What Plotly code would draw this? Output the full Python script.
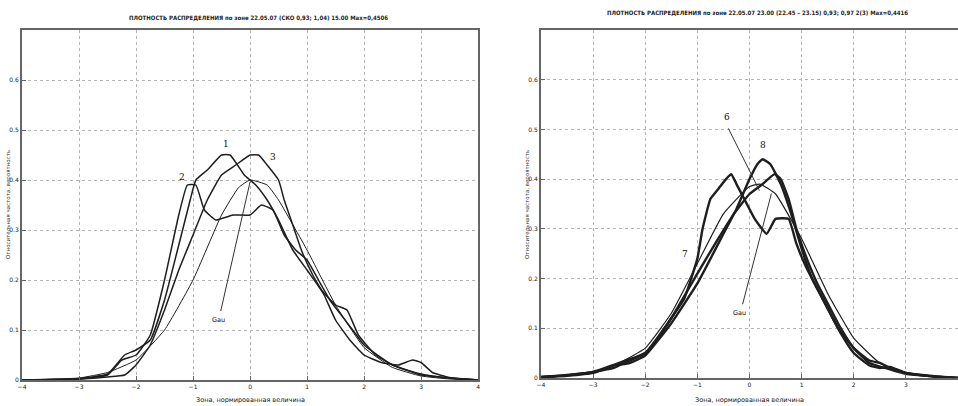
import plotly.graph_objects as go

# ---------------- data ----------------
# left panel
L_gauss_x = [-4, -3, -2.5, -2, -1.5, -1, -0.5, -0.2, 0, 0.3, 0.5, 1, 1.5, 2, 2.5, 3, 3.5, 4]
L_gauss_y = [0.0, 0.004, 0.015, 0.04, 0.10, 0.20, 0.33, 0.385, 0.40, 0.39, 0.36, 0.26, 0.15, 0.065, 0.025, 0.008, 0.002, 0.0]

L1_x = [-4, -3, -2.5, -2.2, -2, -1.75, -1.5, -1.25, -1.05, -0.95, -0.75, -0.5, -0.35, -0.1, 0.1, 0.3, 0.5, 0.75, 1.0, 1.25, 1.5, 1.7, 1.9, 2.2, 2.5, 3, 3.5, 4]
L1_y = [0.0, 0.003, 0.012, 0.05, 0.06, 0.08, 0.16, 0.27, 0.36, 0.40, 0.42, 0.45, 0.45, 0.41, 0.39, 0.36, 0.32, 0.26, 0.22, 0.18, 0.15, 0.14, 0.09, 0.05, 0.03, 0.01, 0.004, 0.0]

L2_x = [-4, -3, -2.5, -2.25, -2, -1.75, -1.5, -1.25, -1.1, -0.95, -0.8, -0.6, -0.3, 0, 0.2, 0.4, 0.6, 0.8, 1.0, 1.2, 1.4, 1.6, 1.8, 2, 2.5, 3, 3.5, 4]
L2_y = [0.0, 0.002, 0.01, 0.04, 0.05, 0.09, 0.20, 0.33, 0.39, 0.39, 0.34, 0.32, 0.33, 0.33, 0.35, 0.34, 0.29, 0.26, 0.24, 0.20, 0.16, 0.13, 0.10, 0.07, 0.03, 0.012, 0.004, 0.0]

L3_x = [-4, -3, -2.5, -2.2, -2, -1.75, -1.5, -1.25, -1, -0.75, -0.5, -0.25, 0, 0.15, 0.3, 0.5, 0.6, 0.75, 0.9, 1.1, 1.3, 1.5, 1.75, 2, 2.3, 2.6, 2.85, 3.0, 3.2, 3.5, 4]
L3_y = [0.0, 0.002, 0.006, 0.01, 0.03, 0.07, 0.14, 0.22, 0.29, 0.36, 0.41, 0.43, 0.45, 0.45, 0.43, 0.40, 0.36, 0.31, 0.26, 0.21, 0.17, 0.12, 0.08, 0.05, 0.035, 0.03, 0.04, 0.035, 0.015, 0.005, 0.0]

# right panel
R_gauss_x = [-4, -3, -2.5, -2, -1.5, -1, -0.5, 0, 0.2, 0.5, 1, 1.5, 2, 2.5, 3, 3.5, 4]
R_gauss_y = [0.002, 0.01, 0.03, 0.06, 0.13, 0.23, 0.33, 0.385, 0.39, 0.37, 0.28, 0.17, 0.08, 0.03, 0.01, 0.003, 0.0]

RA_x = [-4, -3.5, -3, -2.5, -2, -1.75, -1.5, -1.25, -1, -0.9, -0.75, -0.6, -0.45, -0.35, -0.25, -0.1, 0.1, 0.33, 0.5, 0.75, 0.9, 1.1, 1.4, 1.7, 2, 2.3, 2.6, 3, 3.5, 4]
RA_y = [0.002, 0.006, 0.012, 0.03, 0.05, 0.08, 0.12, 0.16, 0.24, 0.30, 0.36, 0.38, 0.40, 0.41, 0.39, 0.36, 0.32, 0.29, 0.32, 0.32, 0.27, 0.22, 0.16, 0.10, 0.06, 0.03, 0.02, 0.008, 0.003, 0.0]

RB_x = [-4, -3.5, -3, -2.6, -2.3, -2, -1.5, -1, -0.5, -0.25, 0, 0.15, 0.25, 0.4, 0.6, 0.8, 1.0, 1.2, 1.5, 1.75, 2, 2.3, 2.5, 2.7, 3, 3.5, 4]
RB_y = [0.001, 0.004, 0.01, 0.025, 0.03, 0.045, 0.11, 0.19, 0.29, 0.34, 0.40, 0.43, 0.44, 0.43, 0.39, 0.33, 0.26, 0.20, 0.14, 0.09, 0.05, 0.025, 0.02, 0.022, 0.01, 0.003, 0.0]

RC_x = [-4, -3.5, -3, -2.6, -2.4, -2, -1.5, -1, -0.6, -0.3, 0, 0.25, 0.48, 0.6, 0.75, 0.9, 1.1, 1.3, 1.5, 1.75, 2, 2.3, 2.5, 2.7, 3, 3.5, 4]
RC_y = [0.002, 0.005, 0.012, 0.02, 0.03, 0.05, 0.12, 0.21, 0.28, 0.33, 0.37, 0.39, 0.41, 0.40, 0.36, 0.30, 0.24, 0.19, 0.15, 0.10, 0.06, 0.035, 0.03, 0.02, 0.01, 0.004, 0.0]

x_ticks = [-4, -3, -2, -1, 0, 1, 2, 3, 4]
y_ticks = [0, 0.1, 0.2, 0.3, 0.4, 0.5, 0.6]
y_tick_text = ["0", "0.1", "0.2", "0.3", "0.4", "0.5", "0.6"]

title_left = "ПЛОТНОСТЬ РАСПРЕДЕЛЕНИЯ по зоне 22.05.07 (СКО 0,93; 1,04) 15.00 Max=0,4506"
title_right = "ПЛОТНОСТЬ РАСПРЕДЕЛЕНИЯ по зоне 22.05.07 23.00 (22.45 – 23.15) 0,93; 0,97 2(3) Max=0,4416"
x_title = "Зона, нормированная величина"
y_title = "Относительная частота, вероятность"

# ---------------- figure ----------------
fig = go.Figure()
INK = "#1e1e1e"

def add(x, y, w, xa, ya):
    fig.add_trace(go.Scatter(x=x, y=y, mode="lines", line=dict(color=INK, width=w, shape="spline", smoothing=0.4),
                             xaxis=xa, yaxis=ya, showlegend=False, hoverinfo="skip"))

add(L_gauss_x, L_gauss_y, 1.0, "x", "y")
add(L1_x, L1_y, 1.5, "x", "y")
add(L2_x, L2_y, 1.5, "x", "y")
add(L3_x, L3_y, 1.5, "x", "y")

add(R_gauss_x, R_gauss_y, 1.2, "x2", "y2")
add(RA_x, RA_y, 2.4, "x2", "y2")
add(RB_x, RB_y, 2.4, "x2", "y2")
add(RC_x, RC_y, 2.4, "x2", "y2")

tickfont = dict(family="DejaVu Sans", size=6, color="#222")
axis_common = dict(showline=True, linecolor="#666", linewidth=2, mirror=True,
                   showgrid=True, gridcolor="#b5b5b5", griddash="dot", gridwidth=1,
                   ticks="inside", ticklen=4, tickcolor="#666", tickfont=tickfont,
                   zeroline=False, automargin=False, fixedrange=True)

fig.update_layout(
    width=958, height=406,
    margin=dict(l=0, r=0, t=30, b=26),
    paper_bgcolor="white", plot_bgcolor="white",
    xaxis=dict(domain=[0.023, 0.499], range=[-4, 4], tickvals=x_ticks, anchor="y", **axis_common),
    yaxis=dict(domain=[0.0, 1.0], range=[0, 0.7], tickvals=y_ticks, ticktext=y_tick_text, anchor="x", **axis_common),
    xaxis2=dict(domain=[0.5647, 1.0], range=[-4, 4], tickvals=x_ticks, anchor="y2", **axis_common),
    yaxis2=dict(domain=[0.006, 1.0], range=[0, 0.7], tickvals=y_ticks, ticktext=y_tick_text, anchor="x2", **axis_common),
)

lab_font = dict(family="DejaVu Serif", size=9, color="#111")
small_font = dict(family="DejaVu Sans", size=6.5, color="#111")

ann = [
    # titles
    dict(text="<b>" + title_left + "</b>", xref="paper", yref="paper", x=258 / 958, y=1 + 13 / 350,
         xanchor="center", yanchor="middle",
         showarrow=False, font=dict(family="DejaVu Sans Condensed", size=6, color="#222")),
    dict(text="<b>" + title_right + "</b>", xref="paper", yref="paper", x=757 / 958, y=1 + 18 / 350,
         xanchor="center", yanchor="middle",
         showarrow=False, font=dict(family="DejaVu Sans Condensed", size=6, color="#222")),
    # x titles
    dict(text=x_title, xref="x", yref="paper", x=0, y=-20 / 350, xanchor="center", yanchor="middle",
         showarrow=False, font=small_font),
    dict(text=x_title, xref="x2", yref="paper", x=0, y=-20 / 350, xanchor="center", yanchor="middle",
         showarrow=False, font=small_font),
    # y titles
    dict(text=y_title, xref="paper", yref="paper", x=8 / 958, y=0.5, textangle=-90,
         xanchor="center", yanchor="middle", showarrow=False, font=dict(family="DejaVu Sans", size=5.5, color="#333")),
    dict(text=y_title, xref="paper", yref="paper", x=527 / 958, y=0.5, textangle=-90,
         xanchor="center", yanchor="middle", showarrow=False, font=dict(family="DejaVu Sans", size=5.5, color="#333")),
    # curve labels, left
    dict(text="2", xref="x", yref="y", x=-1.19, y=0.406, showarrow=False, font=lab_font),
    dict(text="1", xref="x", yref="y", x=-0.42, y=0.472, showarrow=False, font=lab_font),
    dict(text="3", xref="x", yref="y", x=0.40, y=0.446, showarrow=False, font=lab_font),
    dict(text="Gau", xref="x", yref="y", x=-0.56, y=0.12, showarrow=False, font=small_font),
    dict(text="", xref="x", yref="y", x=0.0, y=0.396, ax=-0.52, ay=0.135, axref="x", ayref="y",
         showarrow=True, arrowhead=0, arrowwidth=1, arrowcolor="#333"),
    # curve labels, right
    dict(text="6", xref="x2", yref="y2", x=-0.44, y=0.524, showarrow=False, font=lab_font),
    dict(text="", xref="x2", yref="y2", x=0.19, y=0.377, ax=-0.42, ay=0.505, axref="x2", ayref="y2",
         showarrow=True, arrowhead=0, arrowwidth=1, arrowcolor="#333"),
    dict(text="8", xref="x2", yref="y2", x=0.25, y=0.468, showarrow=False, font=lab_font),
    dict(text="7", xref="x2", yref="y2", x=-1.23, y=0.249, showarrow=False, font=lab_font),
    dict(text="Gau", xref="x2", yref="y2", x=-0.19, y=0.13, showarrow=False, font=small_font),
    dict(text="", xref="x2", yref="y2", x=0.42, y=0.371, ax=-0.14, ay=0.145, axref="x2", ayref="y2",
         showarrow=True, arrowhead=0, arrowwidth=1, arrowcolor="#333"),
]
fig.update_layout(annotations=ann)

fig.write_html("out.html", config={"displayModeBar": False},
               post_script="document.body.style.margin='0';")
